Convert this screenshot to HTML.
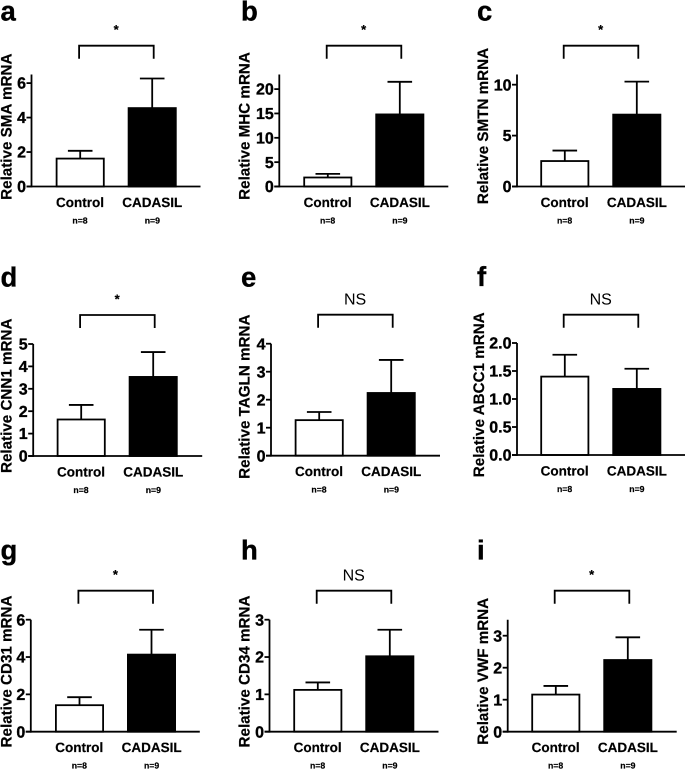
<!DOCTYPE html>
<html lang="en">
<head>
<meta charset="utf-8">
<title>Relative mRNA expression in Control and CADASIL</title>
<style>
  html, body { margin: 0; padding: 0; background: #fff; }
  #figure { display: block; width: 685px; height: 769px; }
  text { font-family: "Liberation Sans", Arial, sans-serif; fill: #000; text-rendering: geometricPrecision; }
  .bold { font-weight: bold; stroke: #000; stroke-width: 0.2px; }
  .tick { font-weight: bold; stroke: #000; stroke-width: 0.35px; }
</style>
</head>
<body>
<svg id="figure" xmlns="http://www.w3.org/2000/svg" width="685" height="769" viewBox="0 0 685 769">
  <defs><filter id="soften" x="0" y="0" width="100%" height="100%"><feGaussianBlur stdDeviation="0.35"/></filter></defs>
  <rect x="0" y="0" width="685" height="769" fill="#fff"/>
  <g id="plots" filter="url(#soften)"></g>
</svg>
<script>
// ---- chart data ----
const panelLetters = ['a', 'b', 'c', 'd', 'e', 'f', 'g', 'h', 'i'];
const genes = ['SMA', 'MHC', 'SMTN', 'CNN1', 'TAGLN', 'ABCC1', 'CD31', 'CD34', 'VWF'];
const categories = ['Control', 'CADASIL'];
const sampleSizes = ['n=8', 'n=9'];
const controlMeans = [1.62, 1.85, 2.5, 1.63, 1.27, 1.40, 1.42, 1.12, 1.16];
const controlErrors = [0.45, 0.75, 1.03, 0.65, 0.29, 0.39, 0.43, 0.20, 0.27];
const cadasilMeans = [4.55, 14.8, 7.06, 3.53, 2.24, 1.18, 4.13, 2.02, 2.24];
const cadasilErrors = [1.72, 6.7, 3.24, 1.11, 1.18, 0.36, 1.33, 0.71, 0.71];
const significance = ['*', '*', '*', '*', 'NS', 'NS', '*', 'NS', '*'];
const yDomainMax = [6.5, 23, 11, 5, 4, 2, 6, 3, 3.5];
const tickLabelsA = ['0', '2', '4', '6'];
const tickLabelsB = ['0', '5', '10', '15', '20'];
const tickLabelsC = ['0', '5', '10'];
const tickLabelsD = ['0', '1', '2', '3', '4', '5'];
const tickLabelsE = ['0', '1', '2', '3', '4'];
const tickLabelsF = ['0.0', '0.5', '1.0', '1.5', '2.0'];
const tickLabelsG = ['0', '2', '4', '6'];
const tickLabelsH = ['0', '1', '2', '3'];
const tickLabelsI = ['0', '1', '2', '3'];
const yTickLabels = [tickLabelsA, tickLabelsB, tickLabelsC, tickLabelsD, tickLabelsE, tickLabelsF, tickLabelsG, tickLabelsH, tickLabelsI];

// ---- page layout (panel placement, not data) ----
const firstBarLeft = [55.7, 303.3, 540.3, 56.7, 294.7, 540.3, 55, 293.3, 531.3];
const axisLine = [31.5, 279.3, 517, 33.2, 271, 517, 30.8, 269.5, 507.7];
const baselineY = [186.5, 186.5, 186.5, 456, 455.7, 455, 731.7, 731.7, 731.7];
const bracketTopY = [45.7, 45.7, 45.7, 315, 314.7, 314.7, 590.7, 590.7, 590.7];
const titleX = [11.5, 249.5, 487.8, 11.5, 249.5, 483.8, 11.5, 249.5, 487.8];
const titleMidY = [126.7, 126, 126, 395.8, 396.7, 394.8, 671.5, 671.5, 671.3];
const letterX = [0.5, 241, 477, 0.5, 241, 477, 0.5, 241, 477];
const letterY = [20.7, 20.7, 20.7, 286.7, 286.7, 286.2, 559.5, 559.7, 559.7];

const PLOT_H = 112, BAR_W = 49, BAR_GAP = 72, SW = 1.8, CAP = 12.3;
const NS = 'http://www.w3.org/2000/svg';
const figure = document.getElementById('plots');

function node(tag, props, parent) {
  const el = document.createElementNS(NS, tag);
  for (const k in props) el.setAttribute(k, props[k]);
  parent.appendChild(el);
  return el;
}
function yScale(i, v) { return baselineY[i] - (v / yDomainMax[i]) * PLOT_H; }
function line(x1, y1, x2, y2, parent) {
  return node('line', { x1: x1, y1: y1, x2: x2, y2: y2, stroke: '#000', 'stroke-width': SW }, parent);
}
function label(str, x, y, size, cls, anchor, parent) {
  const t = node('text', { x: x, y: y, 'font-size': size, 'text-anchor': anchor, class: cls }, parent);
  t.textContent = str;
  return t;
}

panelLetters.forEach(function (letter, i) {
  const base = baselineY[i];
  const left = firstBarLeft[i];
  const ax = axisLine[i];

  const g = node('g', {}, figure);
  
  

  const letterEl = label(letter, letterX[i], letterY[i], 27.5, 'tick', 'start', g);
  
  

  const title = label('Relative ' + genes[i] + ' mRNA', 0, 0, 15.2, 'bold', 'middle', g);
  title.setAttribute('transform', 'translate(' + titleX[i] + ',' + titleMidY[i] + ') rotate(-90)');
  
  

  // bars and error bars
  const means = [controlMeans[i], cadasilMeans[i]];
  const errors = [controlErrors[i], cadasilErrors[i]];
  categories.forEach(function (cat, c) {
    const barX = left + c * BAR_GAP;
    const cx = barX + BAR_W / 2;
    const top = yScale(i, means[c]);
    const errTop = yScale(i, means[c] + errors[c]);

    const stem = line(cx, top, cx, errTop, g);
    
    

    const cap = line(cx - CAP, errTop, cx + CAP, errTop, g);
    
    

    const bar = node('rect', {
      x: barX + SW / 2, y: top, width: BAR_W - SW, height: base - top,
      fill: c === 0 ? '#fff' : '#000', stroke: '#000', 'stroke-width': SW
    }, g);
    
    

    const catLabel = label(cat, left + 24.3 + c * 72.3, base + 20.3, 13.5, 'bold', 'middle', g);
    
    

    const nLabel = label(sampleSizes[c], left + 24.3 + c * 72.3, base + 37, 8.7, 'bold', 'middle', g);
    
    
  });

  // axes
  const yAxis = line(ax, base + SW / 2, ax, base - PLOT_H, g);
  
  

  const xAxis = line(ax - 5, base, ax + 169, base, g);
  
  

  yTickLabels[i].forEach(function (tick) {
    const ty = yScale(i, parseFloat(tick));
    const mark = line(ax - 5, ty, ax, ty, g);
    
    

    const tickText = label(tick, ax - 5.5, ty + 5.6, 16, 'tick', 'end', g);
    
    
  });

  // significance bracket
  const by = bracketTopY[i];
  const bx1 = left + 23.4, bx2 = bx1 + 74.6;
  const bracket = node('path', {
    d: 'M' + bx1 + ' ' + (by + 13) + 'V' + by + 'H' + bx2 + 'V' + (by + 13),
    fill: 'none', stroke: '#000', 'stroke-width': SW
  }, g);
  
  

  const isStar = significance[i] === '*';
  const sig = label(significance[i], left + 60.4, by + (isStar ? -11.5 : -10), isStar ? 13 : 16, isStar ? 'bold' : '', 'middle', g);
  
  
});
</script>
</body>
</html>
